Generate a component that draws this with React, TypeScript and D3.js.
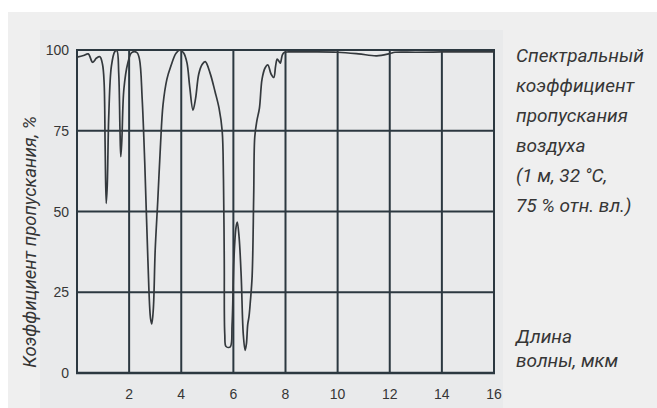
import React, { useRef, useEffect } from "react";
import * as d3 from "d3";

// wavelength, µm
const waveLength = [
  0, 0.25, 0.43, 0.6, 0.75, 0.88, 0.98, 1.04, 1.08, 1.12, 1.16, 1.22, 1.32, 1.45, 1.53, 1.6, 1.65, 1.68, 1.72, 1.8,
  1.95, 2.1, 2.3, 2.4, 2.5, 2.6, 2.72, 2.82, 2.87, 2.93, 3.0, 3.1, 3.2, 3.3, 3.45, 3.6, 3.8, 3.96, 4.1, 4.22,
  4.32, 4.45, 4.55, 4.67, 4.8, 4.92, 5.1, 5.3, 5.45, 5.57, 5.62, 5.65, 5.67, 5.72, 5.88, 5.95, 6.02, 6.1, 6.15, 6.22,
  6.3, 6.38, 6.45, 6.5, 6.55, 6.6, 6.65, 6.72, 6.78, 6.82, 6.9, 7.0, 7.1, 7.22, 7.32, 7.45, 7.55, 7.62, 7.68, 7.75,
  7.8, 7.88, 7.95, 8.1, 9, 10, 10.8, 11.5, 12, 12.2, 13, 14, 15, 16
];
// transmittance, %
const transmit = [
  97.8, 98.3, 98.8, 96.2, 97.5, 97.9, 95.5, 90, 70, 52.5, 58, 80, 95, 99.5, 99.8, 93, 75, 67, 72, 88,
  96, 99.2, 99.2, 97, 85, 65, 35, 17, 15.2, 20, 38, 53.5, 70, 83, 91, 95, 99, 100, 99, 96,
  89, 81.4, 85, 92.5, 95.5, 96.4, 93, 87, 82, 75, 60, 35, 12, 8.2, 8.1, 15, 35, 45, 46.7, 42,
  30, 12, 7, 9, 15, 17.5, 22, 30, 55, 73, 78, 82, 91, 94.5, 95.4, 92.5, 91.5, 95, 97.2, 96.5,
  95.9, 98.5, 99.2, 99.4, 99.4, 99.3, 98.8, 98.2, 98.9, 99.3, 99.3, 99.4, 99.4, 99.4
];

const xTicks = [2, 4, 6, 8, 10, 12, 14, 16];
const yTicks = [0, 25, 50, 75, 100];

const titleLines = ["Спектральный", "коэффициент", "пропускания", "воздуха", "(1 м, 32 °C,", "75 % отн. вл.)"];
const xTitleLines = ["Длина", "волны, мкм"];
const yTitle = "Коэффициент пропускания, %";

const gridColor = "#2c3840";
const textColor = "#363636";
const numFont = "'Liberation Sans', Arial, sans-serif";
const labelFont = "Roboto, 'Noto Sans', sans-serif";

export default function App() {
  const ref = useRef<SVGSVGElement>(null);

  useEffect(() => {
    const width = 657;
    const height = 408;
    const plot = { left: 77, right: 494, top: 50, bottom: 373 };

    const svg = d3.select(ref.current);
    svg.selectAll("*").remove();
    svg.attr("width", width).attr("height", height);

    const x = d3.scaleLinear().domain([0, 16]).range([plot.left, plot.right]);
    const y = d3.scaleLinear().domain([0, 100]).range([plot.bottom, plot.top]);

    // фон
    svg.append("rect").attr("x", 8).attr("y", 12).attr("width", width - 8).attr("height", height - 12).attr("fill", "#efefef");
    svg.append("rect").attr("x", 40).attr("y", 30).attr("width", 463).attr("height", height - 30).attr("fill", "#e9eaeb");

    // сетка
    const grid = svg.append("g").attr("stroke", gridColor).attr("stroke-width", 2);
    grid.selectAll("line.v")
      .data([0, ...xTicks])
      .join("line")
      .attr("class", "v")
      .attr("x1", d => x(d)).attr("x2", d => x(d))
      .attr("y1", y(100)).attr("y2", y(0));
    grid.selectAll("line.h")
      .data(yTicks)
      .join("line")
      .attr("class", "h")
      .attr("x1", x(0) - 1).attr("x2", x(16) + 1)
      .attr("y1", d => y(d)).attr("y2", d => y(d))
      .attr("stroke-width", d => (d === 0 ? 2.6 : 2));

    // кривая
    const pts: [number, number][] = waveLength.map((w, i) => [w, transmit[i]]);
    const line = d3.line<[number, number]>()
      .x(d => x(d[0]))
      .y(d => y(d[1]))
      .curve(d3.curveCatmullRom.alpha(0.5));
    svg.append("path")
      .datum(pts)
      .attr("d", line)
      .attr("fill", "none")
      .attr("stroke", "#34393d")
      .attr("stroke-width", 1.7)
      .attr("stroke-linejoin", "round");

    // подписи осей
    svg.append("g")
      .selectAll("text")
      .data(xTicks)
      .join("text")
      .attr("x", d => x(d))
      .attr("y", 399)
      .attr("text-anchor", "middle")
      .attr("font-family", numFont)
      .attr("font-size", 14)
      .attr("fill", textColor)
      .text(d => d);

    svg.append("g")
      .selectAll("text")
      .data(yTicks)
      .join("text")
      .attr("x", 69)
      .attr("y", d => y(d) + 5)
      .attr("text-anchor", "end")
      .attr("font-family", numFont)
      .attr("font-size", 14)
      .attr("fill", textColor)
      .text(d => d);

    svg.append("text")
      .attr("transform", `translate(36,242) rotate(-90)`)
      .attr("text-anchor", "middle")
      .attr("font-family", labelFont)
      .attr("font-style", "italic")
      .attr("font-size", 18.5)
      .attr("fill", textColor)
      .text(yTitle);

    // текст справа
    svg.append("g")
      .selectAll("text")
      .data(titleLines)
      .join("text")
      .attr("x", 516)
      .attr("y", (d, i) => 62 + i * 30)
      .attr("font-family", labelFont)
      .attr("font-style", "italic")
      .attr("font-size", 19)
      .attr("fill", textColor)
      .text(d => d);

    svg.append("g")
      .selectAll("text")
      .data(xTitleLines)
      .join("text")
      .attr("x", 516)
      .attr("y", (d, i) => 343 + i * 24)
      .attr("font-family", labelFont)
      .attr("font-style", "italic")
      .attr("font-size", 19)
      .attr("fill", textColor)
      .text(d => d);
  }, []);

  return <svg ref={ref} style={{ position: "absolute", left: 0, top: 0 }}></svg>;
}
